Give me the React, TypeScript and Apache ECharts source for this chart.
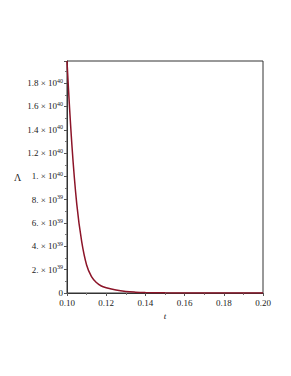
import React, { useEffect, useRef } from "react";
import * as echarts from "echarts";

const tValues = [0.1, 0.1025, 0.105, 0.1075, 0.11, 0.1125, 0.115, 0.1175, 0.12, 0.125, 0.13, 0.135, 0.14, 0.15, 0.16, 0.17, 0.18, 0.19, 0.2];
const lambdaValues = [1.99e40, 1.27e40, 7.6e39, 4.4e39, 2.4e39, 1.4e39, 9.0e38, 6.0e38, 4.5e38, 2.5e38, 1.3e38, 7.0e37, 4.0e37, 1.5e37, 6.0e36, 2.5e36, 1.0e36, 5.0e35, 3.0e35];
const yTickLabels: Record<string, [string, string]> = {
  "2e+39": ["2. × 10", "39"],
  "4e+39": ["4. × 10", "39"],
  "6e+39": ["6. × 10", "39"],
  "8e+39": ["8. × 10", "39"],
  "1e+40": ["1. × 10", "40"],
  "1.2e+40": ["1.2 × 10", "40"],
  "1.4e+40": ["1.4 × 10", "40"],
  "1.6e+40": ["1.6 × 10", "40"],
  "1.8e+40": ["1.8 × 10", "40"],
};

const serif = "Liberation Serif";

export default function App() {
  const ref = useRef<HTMLDivElement>(null);
  useEffect(() => {
    if (!ref.current) return;
    const chart = echarts.init(ref.current, undefined, { renderer: "svg" });
    const data = tValues.map((t, i) => [t, lambdaValues[i]]);
    chart.setOption({
      animation: false,
      backgroundColor: "#ffffff",
      grid: { left: 67, top: 61, right: 28, bottom: 83, show: true, borderColor: "#333", borderWidth: 1 },
      xAxis: {
        type: "value",
        min: 0.1,
        max: 0.2,
        interval: 0.02,
        name: "t",
        nameLocation: "middle",
        nameGap: 17,
        nameTextStyle: { fontFamily: serif, fontStyle: "italic", fontSize: 9, color: "#222" },
        axisLine: { show: true, lineStyle: { color: "#333", width: 1 } },
        axisTick: { show: true, length: 3, lineStyle: { color: "#555" } },
        minorTick: { show: true, splitNumber: 2, length: 2, lineStyle: { color: "#777" } },
        splitLine: { show: false },
        axisLabel: {
          fontFamily: serif,
          fontSize: 9,
          color: "#222",
          margin: 5,
          formatter: (v: number) => v.toFixed(2),
        },
      },
      yAxis: {
        type: "value",
        min: 0,
        max: 1.99e40,
        interval: 2e39,
        axisLine: { show: true, lineStyle: { color: "#333", width: 1 } },
        axisTick: { show: true, length: 3, lineStyle: { color: "#555" } },
        minorTick: { show: true, splitNumber: 2, length: 2, lineStyle: { color: "#777" } },
        splitLine: { show: false },
        axisLabel: {
          fontFamily: serif,
          fontSize: 9,
          color: "#222",
          margin: 4,
          formatter: (v: number) => {
            if (v === 0) return "{a|0}";
            const key = v.toExponential().replace(/\.0+e/, "e");
            let k = String(Number(v.toPrecision(2)));
            const entry = yTickLabels[k] || yTickLabels[key];
            if (!entry) return "";
            return `{a|${entry[0]}}{s|${entry[1]}}`;
          },
          rich: {
            a: { fontFamily: serif, fontSize: 9, color: "#222" },
            s: { fontFamily: serif, fontSize: 6, color: "#222", padding: [0, 0, 5, 0] },
          },
        },
      },
      graphic: [
        {
          type: "text",
          left: 14,
          top: 172,
          style: { text: "Λ", fontFamily: serif, fontSize: 10, fill: "#222" },
        },
      ],
      series: [
        {
          type: "line",
          data,
          smooth: 0.4,
          showSymbol: false,
          lineStyle: { color: "#8c1428", width: 1.5 },
        },
      ],
    });
    return () => chart.dispose();
  }, []);
  return <div ref={ref} style={{ position: "fixed", left: 0, top: 0, width: 291, height: 376 }} />;
}
